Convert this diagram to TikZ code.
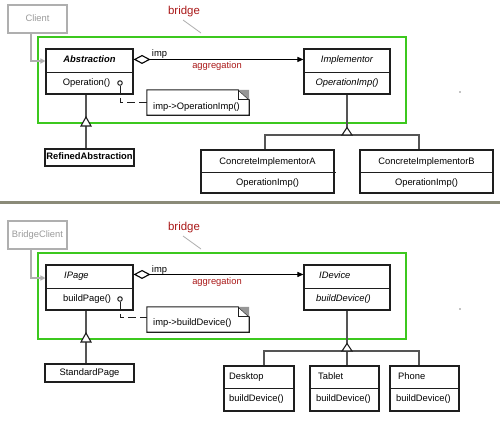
\documentclass[tikz,border=0pt]{standalone}
\usepackage{fontspec}
\setmainfont{Liberation Sans}
\usetikzlibrary{arrows.meta,calc}
\definecolor{boxc}{RGB}{30,30,30}
\definecolor{linec}{RGB}{85,85,85}
\definecolor{greenc}{RGB}{60,200,30}
\definecolor{sepc}{RGB}{138,138,120}
\definecolor{redc}{RGB}{170,25,25}
\definecolor{clientc}{RGB}{175,175,175}
\definecolor{clienttext}{RGB}{155,155,155}
\definecolor{foldc}{RGB}{150,150,150}
\tikzset{
  classbox/.style={draw=boxc, line width=1.1bp, inner sep=0pt, fill=white},
  leafbox/.style={draw=boxc, line width=1.7bp, inner sep=0pt, fill=white},
  clientbox/.style={draw=clientc, line width=1.3bp, inner sep=0pt, text=clienttext},
  txt/.style={inner sep=0pt, text height=6.8bp, text depth=2bp, font=\fontsize{9.4}{11}\selectfont},
  divider/.style={draw=boxc, line width=1bp},
  conn/.style={draw=linec, line width=1.3bp},
  cliconn/.style={draw=clientc, line width=1.3bp, -{Triangle[length=5bp,width=5bp]}},
  aggconn/.style={draw=black, line width=1bp, {Diamond[open,length=17bp,width=9bp,line width=1.1bp]}-{Triangle[length=6bp,width=5bp]}},
  inhtri/.style={draw=boxc, line width=1.1bp, fill=white},
  greenbox/.style={draw=greenc, line width=1.2bp},
  redtxt/.style={inner sep=0pt, text=redc, font=\fontsize{9.4}{11}\selectfont},
  bridgetxt/.style={inner sep=0pt, text=redc, font=\fontsize{11.5}{13}\selectfont},
  bridgeline/.style={draw=clientc, line width=0.8bp},
  notedash/.style={draw=boxc, line width=1bp, dash pattern=on 8bp off 4bp},
  lolli/.style={circle, draw=boxc, line width=1bp, fill=white, inner sep=0pt, minimum size=4.5bp},
  noteline/.style={draw=boxc, line width=1.1bp}
}
\begin{document}
\begin{tikzpicture}[x=1bp,y=-1bp]
\useasboundingbox (0,0) rectangle (500,420);
\fill[white] (0,0) rectangle (500,420);

% ================= TOP =================
\draw[greenbox] (38,37) rectangle (406,123);
\node[clientbox, minimum width=59bp, minimum height=28bp] (client) at (37.5,19) {};
\node[txt, text=clienttext] at (client.center) {Client};

\node[bridgetxt] (bridge1) at (184,12) {bridge};
\coordinate (b1a) at (183,20);
\coordinate (b1b) at (201,33);
\draw[bridgeline] (b1a) -- (b1b);

% Abstraction
\node[classbox, minimum width=87bp, minimum height=45bp] (abs) at (89.5,71.5) {};
\draw[divider] (46,72) -- (133,72);
\node[txt, font=\fontsize{9.4}{11}\selectfont\bfseries\itshape] at (89.5,60.5) {Abstraction};
\node[txt] at (86.5,83) {Operation()};

% Implementor
\node[classbox, minimum width=86bp, minimum height=45bp] (impl) at (347,71.5) {};
\draw[divider] (304,72) -- (390,72);
\node[txt, font=\fontsize{9.4}{11}\selectfont\itshape] at (347,60.5) {Implementor};
\node[txt, font=\fontsize{9.4}{11}\selectfont\itshape] at (347,83) {OperationImp()};

% ConcreteImplementorA
\node[classbox, minimum width=133bp, minimum height=43bp] (concA) at (267.5,171.5) {};
\draw[divider] (201,172) -- (336,172);
\node[txt] at (267.5,162) {ConcreteImplementorA};
\node[txt] at (267.5,183) {OperationImp()};

% ConcreteImplementorB
\node[classbox, minimum width=133bp, minimum height=43bp] (concB) at (426.5,171.5) {};
\draw[divider] (360,172) -- (493,172);
\node[txt] at (426.5,162) {ConcreteImplementorB};
\node[txt] at (426.5,183) {OperationImp()};

% RefinedAbstraction
\node[leafbox, minimum width=89bp, minimum height=17bp] (refined) at (89.5,157.5) {};
\node[txt, font=\fontsize{9.4}{11}\selectfont\bfseries] at (refined.center) {RefinedAbstraction};

% client connector
\draw[cliconn] ([xshift=-6.5bp]client.south) |- ([yshift=10.5bp]abs.west);

% aggregation
\draw[aggconn] ([yshift=-11bp]abs.north east) -- ([yshift=-11bp]impl.north west);
\node[txt] at (159.5,54.5) {imp};
\node[redtxt] at (217,66) {aggregation};

% note
\node[inner sep=0pt, minimum width=102bp, minimum height=25bp] (n1) at (198,102.5) {};
\draw[noteline, fill=white] (n1.north west) -- ([xshift=-11bp]n1.north east) -- ([yshift=-10bp]n1.north east) -- (n1.south east) -- (n1.south west) -- cycle;
\fill[foldc] ([xshift=-11bp]n1.north east) -- (n1.north east) -- ([yshift=-10bp]n1.north east) -- cycle;
\draw[noteline] ([xshift=-11bp]n1.north east) -- ([xshift=-11bp,yshift=-10bp]n1.north east) -- ([yshift=-10bp]n1.north east);
\node[txt, anchor=west] at (153,107) {imp->OperationImp()};

\node[lolli] (lol1) at (120,83) {};
\draw[notedash] (lol1.south) |- (n1.west);

% inheritance Abstraction
\draw[conn] (refined.north -| 86,0) -- (abs.south -| 86,0);
\draw[inhtri] (86,117) -- (81,126) -- (91,126) -- cycle;

% inheritance Implementor
\coordinate (hA) at (265,135);
\coordinate (hB) at (419,135);
\coordinate (hM) at (347,135);
\draw[conn] (impl.south) -- (hM);
\draw[conn] (hA |- concA.north) -- (hA) -- (hB) -- (hB |- concB.north);
\draw[inhtri] (347,127.5) -- (342,135) -- (352,135) -- cycle;

\fill[black] (460,92) circle (0.6bp);

% separator
\fill[sepc] (0,201) rectangle (500,204);

% ================= BOTTOM =================
\draw[greenbox] (38,253) rectangle (406,339);
\node[clientbox, minimum width=59bp, minimum height=28bp] (bclient) at (37.5,235) {};
\node[txt, text=clienttext] at (bclient.center) {BridgeClient};

\node[bridgetxt] (bridge2) at (184,228) {bridge};
\coordinate (b2a) at (183,236);
\coordinate (b2b) at (201,249);
\draw[bridgeline] (b2a) -- (b2b);

% IPage
\node[classbox, minimum width=87bp, minimum height=45bp] (ipage) at (89.5,287.5) {};
\draw[divider] (46,288) -- (133,288);
\node[txt, anchor=west, font=\fontsize{9.4}{11}\selectfont\itshape] at (64,276.5) {IPage};
\node[txt, anchor=west] at (63,299) {buildPage()};

% IDevice
\node[classbox, minimum width=86bp, minimum height=45bp] (idev) at (347,287.5) {};
\draw[divider] (304,288) -- (390,288);
\node[txt, anchor=west, font=\fontsize{9.4}{11}\selectfont\itshape] at (319,276.5) {IDevice};
\node[txt, anchor=west, font=\fontsize{9.4}{11}\selectfont\itshape] at (316,299) {buildDevice()};

% StandardPage
\node[leafbox, minimum width=89bp, minimum height=18bp] (std) at (89.5,373) {};
\node[txt] at (std.center) {StandardPage};

% Desktop / Tablet / Phone
\node[classbox, minimum width=70bp, minimum height=45bp] (desk) at (259,388.5) {};
\draw[divider] (224,388) -- (295,388);
\node[txt, anchor=west] at (229,377.5) {Desktop};
\node[txt, anchor=west] at (229,399.5) {buildDevice()};

\node[classbox, minimum width=69bp, minimum height=45bp] (tab) at (344.5,388.5) {};
\draw[divider] (310,388) -- (379,388);
\node[txt, anchor=west] at (318,377.5) {Tablet};
\node[txt, anchor=west] at (316,399.5) {buildDevice()};

\node[classbox, minimum width=69bp, minimum height=45bp] (phone) at (424.5,388.5) {};
\draw[divider] (390,388) -- (459,388);
\node[txt, anchor=west] at (398,377.5) {Phone};
\node[txt, anchor=west] at (396,399.5) {buildDevice()};

% client connector
\draw[cliconn] ([xshift=-6.5bp]bclient.south) |- ([yshift=9.5bp]ipage.west);

% aggregation
\draw[aggconn] ([yshift=-10bp]ipage.north east) -- ([yshift=-10bp]idev.north west);
\node[txt] at (159.5,270) {imp};
\node[redtxt] at (217,282) {aggregation};

% note
\node[inner sep=0pt, minimum width=102bp, minimum height=25bp] (n2) at (198,319.5) {};
\draw[noteline, fill=white] (n2.north west) -- ([xshift=-11bp]n2.north east) -- ([yshift=-10bp]n2.north east) -- (n2.south east) -- (n2.south west) -- cycle;
\fill[foldc] ([xshift=-11bp]n2.north east) -- (n2.north east) -- ([yshift=-10bp]n2.north east) -- cycle;
\draw[noteline] ([xshift=-11bp]n2.north east) -- ([xshift=-11bp,yshift=-10bp]n2.north east) -- ([yshift=-10bp]n2.north east);
\node[txt, anchor=west] at (153,323) {imp->buildDevice()};

\node[lolli] (lol2) at (120,299) {};
\draw[notedash] (lol2.south) |- ([yshift=2bp]n2.west);

% inheritance IPage
\draw[conn] (std.north -| 86,0) -- (ipage.south -| 86,0);
\draw[inhtri] (86,333) -- (81,342) -- (91,342) -- cycle;

% inheritance IDevice
\coordinate (gA) at (264,351);
\coordinate (gB) at (419,351);
\coordinate (gM) at (347,351);
\draw[conn] (idev.south) -- (gM);
\draw[conn] (gA |- desk.north) -- (gA) -- (gB) -- (gB |- phone.north);
\draw[conn] (gM) -- (gM |- tab.north);
\draw[inhtri] (347,343.5) -- (342,351) -- (352,351) -- cycle;

\fill[black] (460,309) circle (0.6bp);
\end{tikzpicture}
\end{document}
